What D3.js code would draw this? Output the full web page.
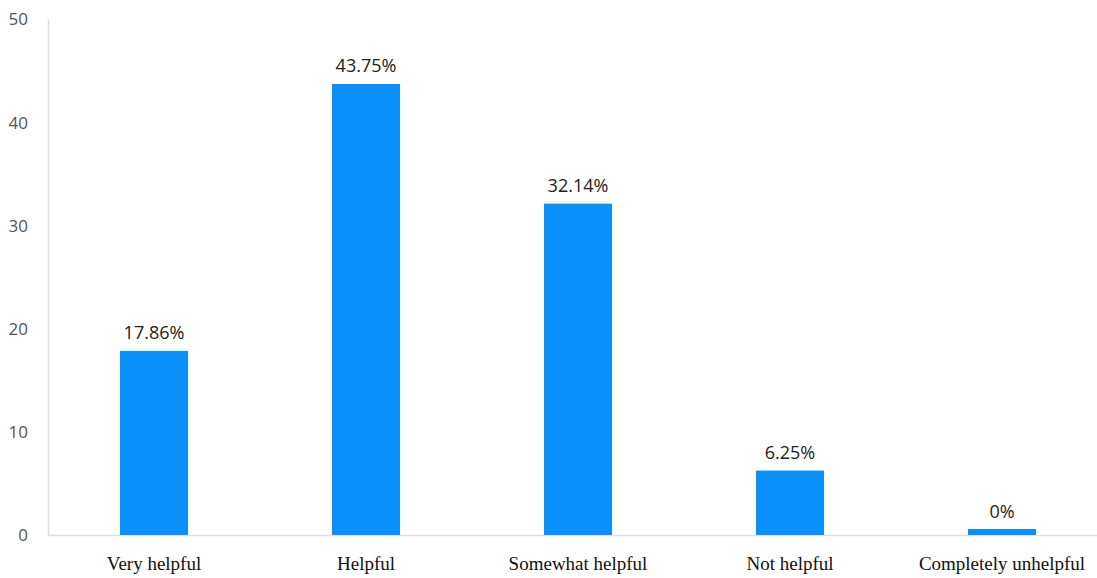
<!DOCTYPE html>
<html>
<head>
<meta charset="utf-8">
<script src="https://cdn.jsdelivr.net/npm/d3@7"></script>
<style>
  html, body { margin: 0; padding: 0; background: #fff; }
  svg { display: block; }
</style>
</head>
<body>
<svg id="chart" width="1097" height="578"></svg>
<script>
// Survey responses: share of respondents per rating (percent)
const categories = ["Very helpful", "Helpful", "Somewhat helpful", "Not helpful", "Completely unhelpful"];
const values = [17.86, 43.75, 32.14, 6.25, 0];
const yTicks = [0, 10, 20, 30, 40, 50];

const svg = d3.select("#chart");
const plotLeft = 48, plotRight = 1108, plotTop = 19.5, plotBottom = 535;
const minBarHeight = 6; // keep zero-valued bars visible

const x = d3.scaleBand()
  .domain(categories)
  .range([plotLeft, plotRight])
  .paddingInner(0.679)
  .paddingOuter(0.3395);

const y = d3.scaleLinear()
  .domain([0, 50])
  .range([plotBottom, plotTop]);

// Y axis: a plain vertical line with tick labels, no tick marks
const yAxis = svg.append("g")
  .attr("transform", `translate(${plotLeft},0)`)
  .call(d3.axisLeft(y).tickValues(yTicks).tickSize(0).tickPadding(20));
yAxis.select(".domain").attr("stroke", "#dcdcef").attr("stroke-width", 1.5);
yAxis.selectAll("text")
  .attr("font-family", "'Open Sans', 'Noto Sans', sans-serif")
  .attr("font-size", 17)
  .attr("fill", "#555");

// X axis baseline with serif category labels
const xAxis = svg.append("g")
  .attr("transform", `translate(0,${plotBottom})`)
  .call(d3.axisBottom(x).tickSize(0).tickPadding(22));
xAxis.select(".domain").attr("stroke", "#dcdcef").attr("stroke-width", 1.5);
xAxis.selectAll("text")
  .attr("font-family", "'Liberation Serif', 'Times New Roman', serif")
  .attr("font-size", 19)
  .attr("fill", "#111");

const data = categories.map((c, i) => ({ c, v: values[i] }));
const barTop = d => Math.min(y(d.v), plotBottom - minBarHeight);

svg.append("g").selectAll("rect")
  .data(data)
  .join("rect")
  .attr("x", d => x(d.c))
  .attr("width", x.bandwidth())
  .attr("y", barTop)
  .attr("height", d => plotBottom - barTop(d))
  .attr("fill", "#0a90f8");

svg.append("g").selectAll("text")
  .data(data)
  .join("text")
  .attr("x", d => x(d.c) + x.bandwidth() / 2)
  .attr("y", d => barTop(d) - 11.5)
  .attr("text-anchor", "middle")
  .attr("font-family", "'Open Sans', 'Noto Sans', sans-serif")
  .attr("font-size", 18)
  .attr("fill", "#222")
  .text(d => `${d.v}%`);
</script>
</body>
</html>
